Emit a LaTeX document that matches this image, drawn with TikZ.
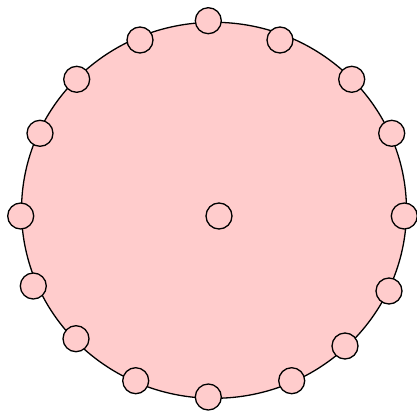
\documentclass[tikz,border=0pt]{standalone}
\usetikzlibrary{shapes.geometric}
\definecolor{pinkfill}{HTML}{FFCCCC}
\begin{document}
\begin{tikzpicture}[x=1pt,y=-1pt,
  dot/.style={circle,draw=black,fill=pinkfill,line width=1.3pt,minimum size=26pt,inner sep=0pt},
  big/.style={ellipse,draw=black,fill=pinkfill,line width=1.3pt,minimum width=385pt,minimum height=376pt,inner sep=0pt}]
\useasboundingbox (0,0) rectangle (417,412);
\node[big] (disc) at (214,210.3) {};
\node[dot] (n1) at (208.3,20.7) {};
\node[dot] (n2) at (140,40) {};
\node[dot] (n3) at (280,40) {};
\node[dot] (n4) at (76.7,79.3) {};
\node[dot] (n5) at (351.7,79.3) {};
\node[dot] (n6) at (40,133.3) {};
\node[dot] (n7) at (391.7,133.3) {};
\node[dot] (n8) at (20.7,216) {};
\node[dot] (n9) at (404.3,216) {};
\node[dot] (n10) at (33.3,286) {};
\node[dot] (n11) at (389,291) {};
\node[dot] (n12) at (76,338.7) {};
\node[dot] (n13) at (345,346) {};
\node[dot] (n14) at (135.7,380.7) {};
\node[dot] (n15) at (291.7,380.7) {};
\node[dot] (n16) at (208.3,397) {};
\node[dot] (c) at (219,216) {};
\end{tikzpicture}
\end{document}
